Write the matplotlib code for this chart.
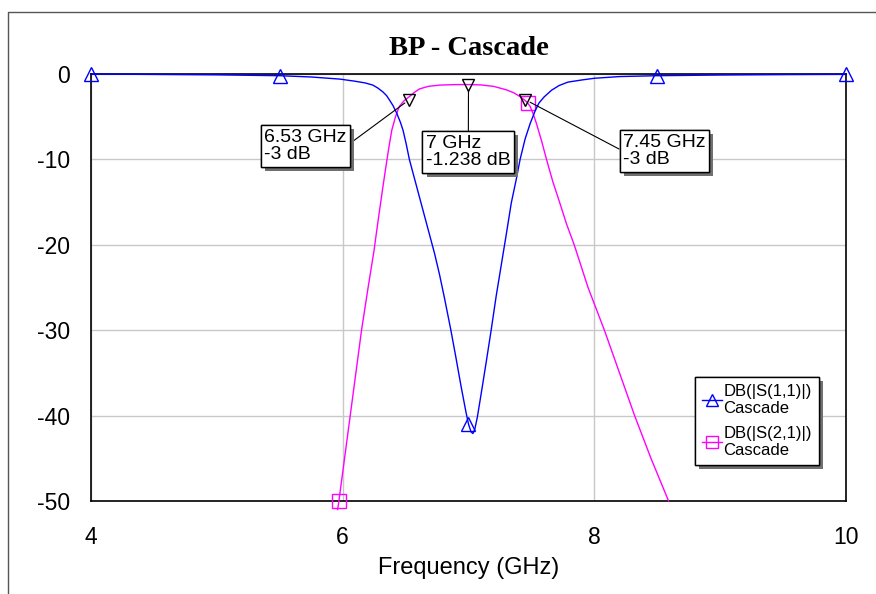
import numpy as np
import matplotlib.pyplot as plt
import matplotlib.patheffects as pe
from matplotlib.lines import Line2D

plt.rcParams['axes.unicode_minus'] = False

# S11 (blue)
s11_freq = [4.0, 4.5, 5.0, 5.5, 5.75, 5.98, 6.1, 6.18, 6.24, 6.28, 6.32, 6.35,
            6.37, 6.4, 6.43, 6.46, 6.48, 6.505, 6.53, 6.57, 6.61, 6.65, 6.69,
            6.73, 6.77, 6.81, 6.86, 6.9, 6.94, 6.98, 7.0, 7.02, 7.035, 7.05,
            7.07, 7.1, 7.14, 7.18, 7.22, 7.27, 7.3, 7.34, 7.38, 7.41, 7.45,
            7.49, 7.53, 7.56, 7.6, 7.66, 7.72, 7.79, 7.9, 8.0, 8.2, 8.5, 9.0,
            9.5, 10.0]
s11_db = [0.0, -0.05, -0.1, -0.2, -0.35, -0.6, -0.85, -1.05, -1.3, -1.65,
          -2.1, -2.55, -3.0, -3.7, -4.6, -5.7, -6.6, -8.2, -10.0, -12.2, -14.4,
          -16.6, -18.8, -21.0, -23.5, -26.3, -30.0, -33.2, -36.5, -39.6, -41.0,
          -41.9, -42.1, -41.6, -40.2, -37.5, -33.8, -30.0, -26.0, -21.5, -18.8,
          -15.1, -12.3, -10.0, -7.6, -5.8, -4.3, -3.4, -2.7, -1.9, -1.35,
          -0.95, -0.7, -0.5, -0.3, -0.2, -0.12, -0.07, -0.04]
s11_mark_freq = [4.0, 5.5, 7.0, 8.5, 10.0]

# S21 (magenta)
s21_freq = [5.96, 5.97, 6.06, 6.15, 6.2, 6.25, 6.27, 6.29, 6.315, 6.34, 6.365,
            6.39, 6.42, 6.45, 6.49, 6.53, 6.57, 6.61, 6.68, 6.77, 6.9, 7.0,
            7.1, 7.2, 7.3, 7.36, 7.41, 7.45, 7.47, 7.49, 7.515, 7.54, 7.58,
            7.62, 7.67, 7.73, 7.78, 7.84, 7.95, 8.08, 8.2, 8.32, 8.45, 8.59]
s21_db = [-51.0, -50.0, -40.0, -30.0, -25.2, -20.6, -18.4, -16.3, -13.7,
          -11.2, -8.8, -6.6, -5.0, -3.8, -3.1, -2.65, -2.15, -1.75, -1.45,
          -1.3, -1.24, -1.238, -1.28, -1.45, -1.85, -2.2, -2.65, -3.1, -3.4,
          -3.8, -4.7, -5.8, -7.8, -10.0, -12.6, -15.3, -17.6, -20.0, -25.0,
          -30.0, -35.0, -40.0, -45.0, -50.0]
s21_mark_freq = [5.97, 7.47]

# marker readouts
mk_freq = [6.53, 7.0, 7.45]
mk_db = [-3.0, -1.238, -3.0]
mk_text = ['6.53 GHz\n-3 dB', '7 GHz\n-1.238 dB', '7.45 GHz\n-3 dB']
mk_textpos = [(5.375, -6.4), (6.662, -7.1), (8.228, -7.0)]
mk_relpos = [(1, 0.5), (0.5, 1), (0, 0.5)]

s11_marks = [s11_freq.index(f) for f in s11_mark_freq]
s21_marks = [s21_freq.index(f) for f in s21_mark_freq]

fig = plt.figure(figsize=(8.76, 5.94), dpi=100)
ax = fig.add_axes([91/876, 1-501/594, 755/876, 427/594])

# outer frame
fig.add_artist(Line2D([8/876, 8/876, 1.0], [0.0, 1-12/594, 1-12/594],
                      transform=fig.transFigure, color='#555555', lw=1.0))

ax.plot(s11_freq, s11_db, color='#0000ff', lw=1.0, marker='^', ms=10,
        mfc='none', mec='#0000ff', markevery=s11_marks, clip_on=False,
        label='DB(|S(1,1)|)\nCascade', zorder=4)
ax.plot(s21_freq, s21_db, color='#ff00ff', lw=1.0, marker='s', ms=10,
        mfc='none', mec='#ff00ff', markevery=s21_marks, clip_on=False,
        label='DB(|S(2,1)|)\nCascade', zorder=3)
ax.plot(mk_freq, mk_db, ls='none', marker='v', ms=9, mfc='none', mec='black',
        mew=1.0, clip_on=False, zorder=5)

shadow = [pe.withSimplePatchShadow(offset=(3, -3), shadow_rgbFace='#707070',
                                    alpha=1.0), pe.Normal()]
for f, d, t, pos, rp in zip(mk_freq, mk_db, mk_text, mk_textpos, mk_relpos):
    an = ax.annotate(t, xy=(f, d), xytext=pos, ha='left', va='top',
                     fontsize=14, family='Liberation Sans', linespacing=1.05,
                     bbox=dict(boxstyle='square,pad=0.18', fc='white',
                               ec='black', lw=1.0),
                     arrowprops=dict(arrowstyle='-', color='black', lw=0.8,
                                     shrinkA=0, shrinkB=4, relpos=rp),
                     zorder=6)
    an.get_bbox_patch().set_path_effects(shadow)

ax.set_xlim(4, 10)
ax.set_ylim(-50, 0)
ax.set_xticks([4, 6, 8, 10])
ax.set_yticks([0, -10, -20, -30, -40, -50])
ax.grid(True, color='#c8c8c8', lw=1.0)
ax.set_axisbelow(True)
ax.tick_params(length=0, labelsize=16.5)
ax.tick_params(axis='y', pad=15)
ax.tick_params(axis='x', pad=18)
for lab in ax.get_xticklabels() + ax.get_yticklabels():
    lab.set_family('Liberation Sans')
for sp in ax.spines.values():
    sp.set_color('black')
    sp.set_linewidth(1.2)

ax.set_xlabel('Frequency (GHz)', fontsize=17, family='Liberation Sans',
              labelpad=6)
ax.set_title('BP - Cascade', fontsize=20.5, family='Liberation Serif',
             fontweight='bold', pad=14)

leg = ax.legend(loc='upper left', bbox_to_anchor=((695-91)/755, (501-377)/427),
                borderaxespad=0, fancybox=False, framealpha=1,
                edgecolor='black', prop=dict(family='Liberation Sans', size=12),
                handlelength=1.2, handletextpad=0.1, borderpad=0.4,
                labelspacing=0.6)
leg.get_frame().set_linewidth(1.0)
leg.get_frame().set_path_effects(shadow)
for h in leg.legend_handles:
    h.set_markersize(9)

fig.savefig('out.png', dpi=100)
